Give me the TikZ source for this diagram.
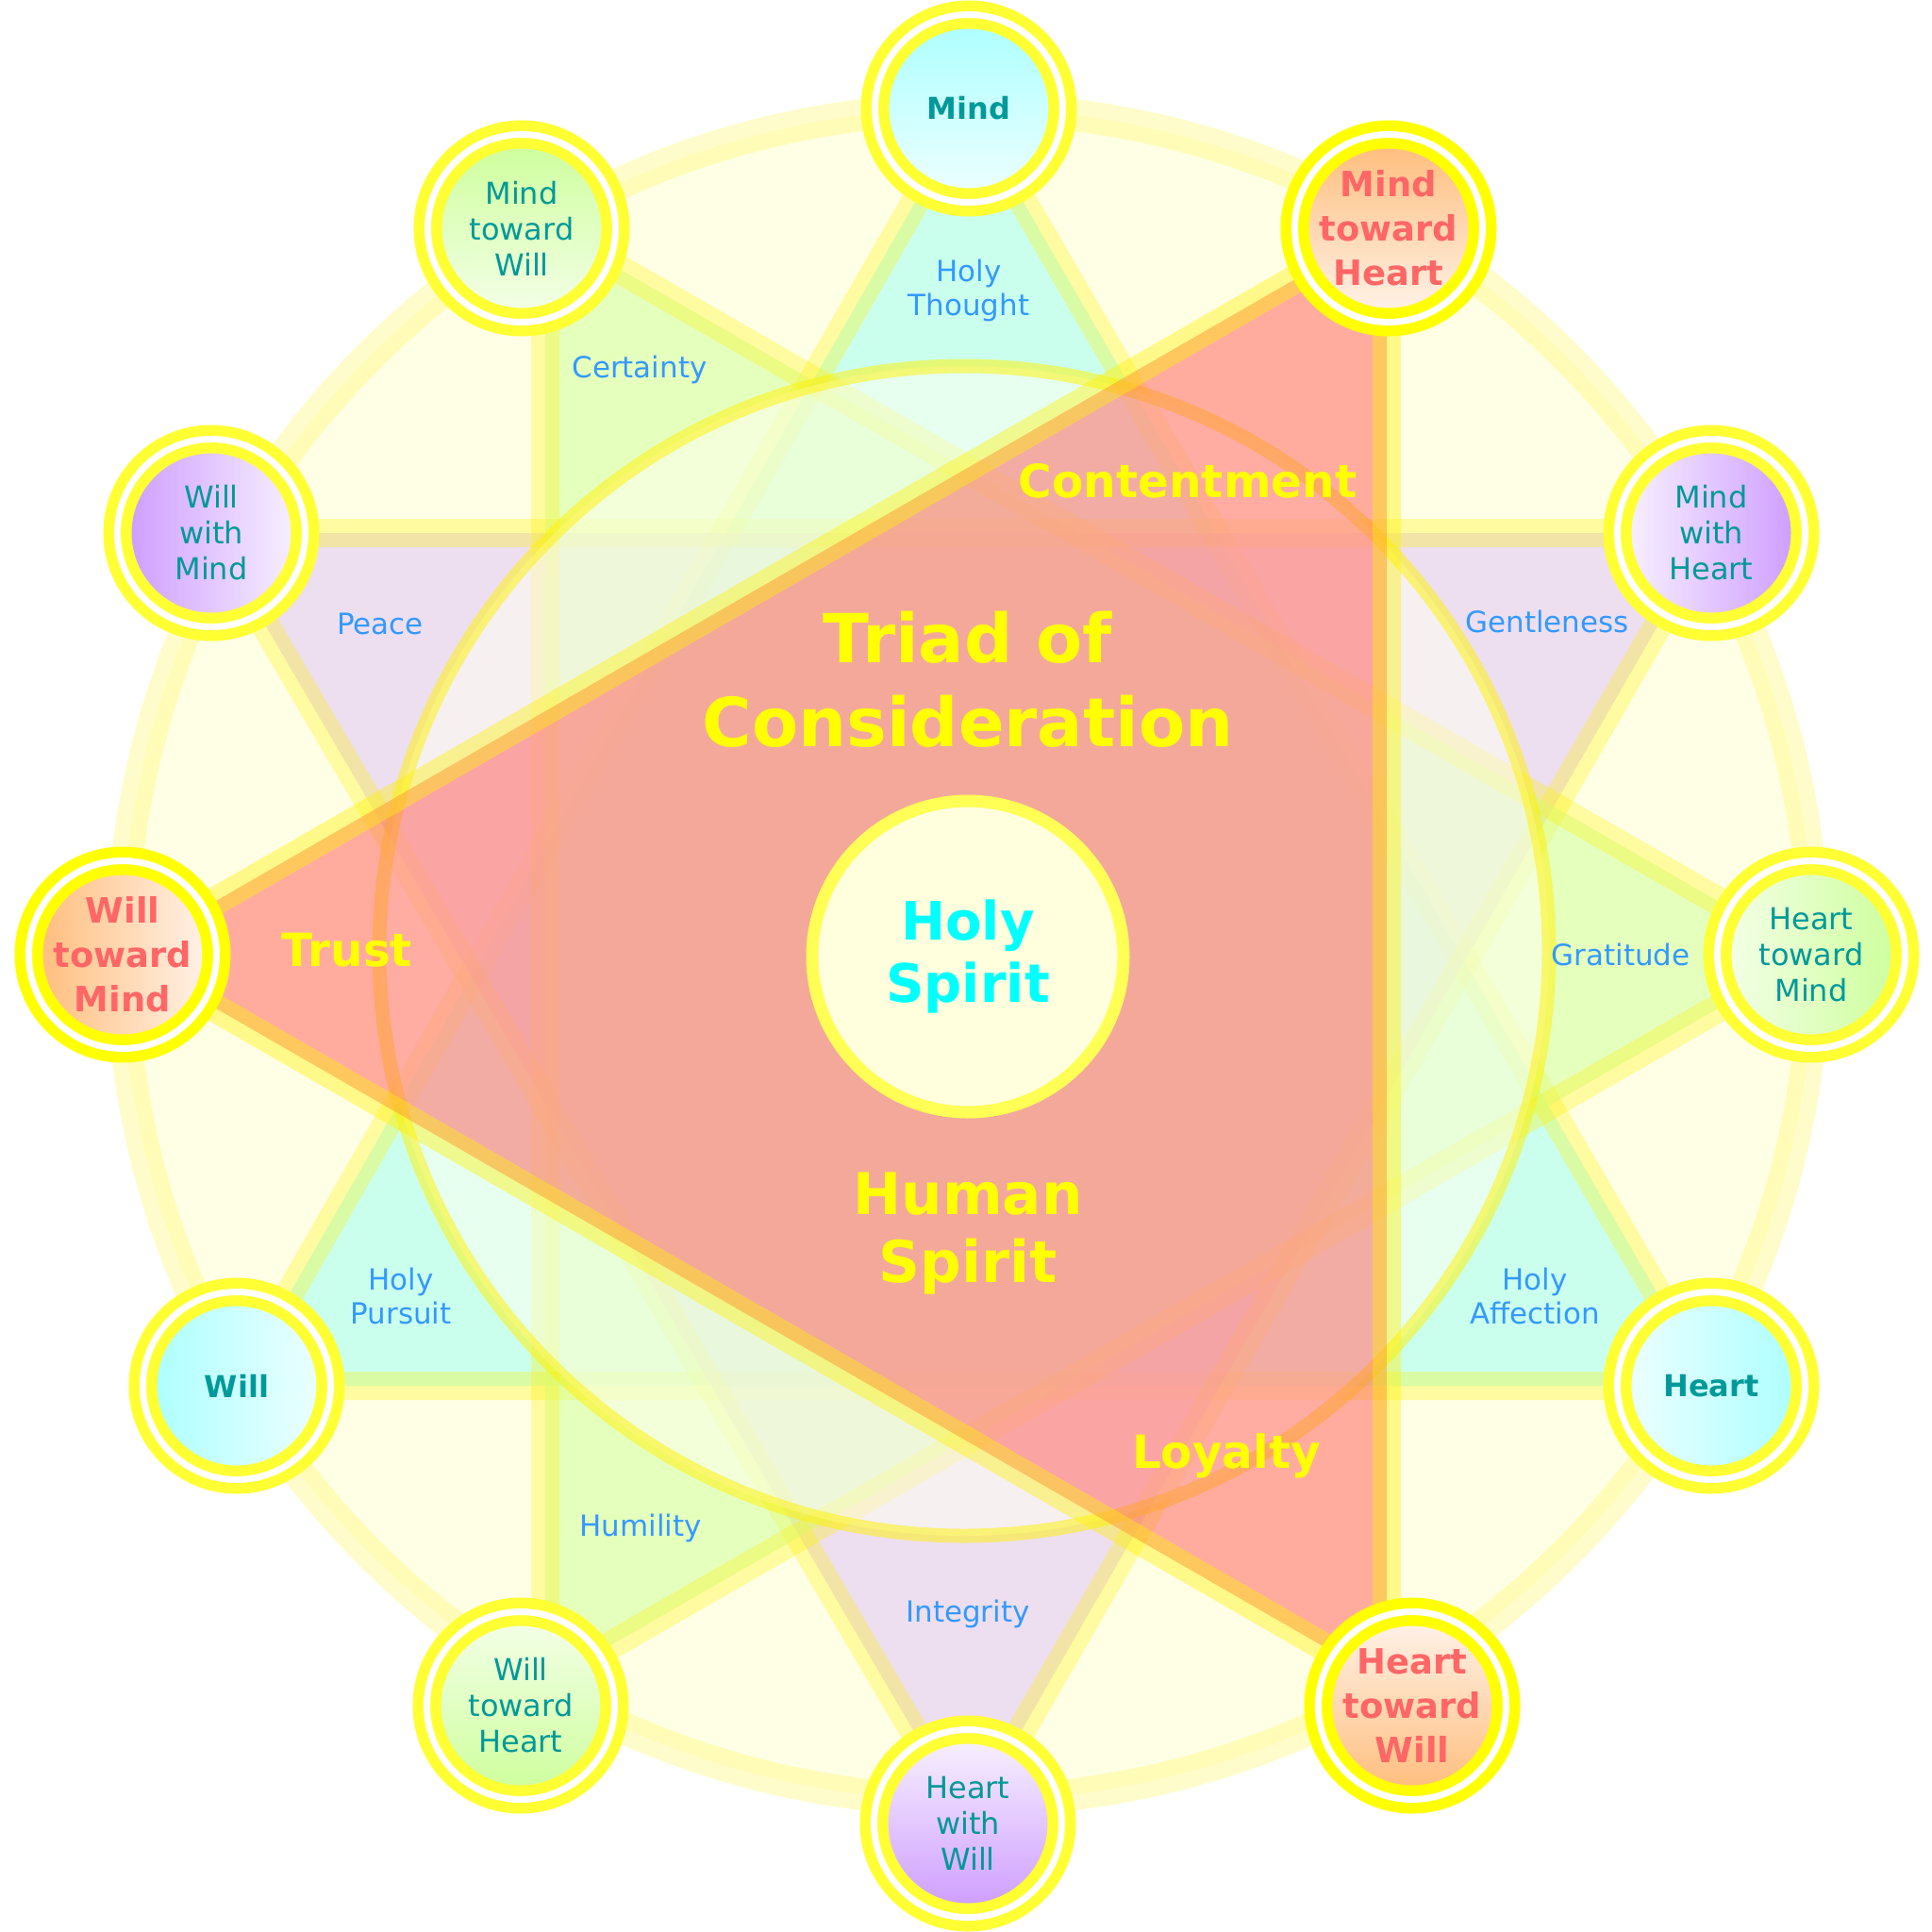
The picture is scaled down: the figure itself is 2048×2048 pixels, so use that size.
\documentclass[tikz,border=0pt]{standalone}
\usepackage{fontspec}
\setmainfont{DejaVu Sans}
\definecolor{ringY}{HTML}{FFFF33}
\definecolor{ringR}{HTML}{FFFF00}
\definecolor{tealT}{HTML}{009999}
\definecolor{redT}{HTML}{FF6666}
\definecolor{blueT}{HTML}{3399FF}
\definecolor{yelT}{HTML}{FFFF00}
\definecolor{cyanTx}{HTML}{00FFFF}
\definecolor{diskF}{HTML}{FFFFE6}
\definecolor{cyanF}{HTML}{99FFF5}
\definecolor{purpF}{HTML}{DDC1FA}
\definecolor{greenF}{HTML}{CDFF96}
\definecolor{redF}{HTML}{FF5A5A}
\definecolor{bigF}{HTML}{FFFFF0}
\definecolor{holyF}{HTML}{FFFFDD}
\definecolor{holyD}{HTML}{FFFF55}
\definecolor{cyanD}{HTML}{AAFFFF}
\definecolor{cyanL}{HTML}{F0FFFF}
\definecolor{oranD}{HTML}{FFBB77}
\definecolor{oranL}{HTML}{FFF5EE}
\definecolor{purpD}{HTML}{CC99FF}
\definecolor{purpL}{HTML}{FAF5FF}
\definecolor{grenD}{HTML}{CCFF99}
\definecolor{grenL}{HTML}{F5FFEB}
\newcommand\myfN{\fontsize{9.1pt}{10.8pt}\selectfont}
\newcommand\myfR{\fontsize{10.5pt}{13.4pt}\selectfont\bfseries}
\newcommand\myfL{\fontsize{8.8pt}{10.5pt}\selectfont}
\newcommand\myfB{\fontsize{13.8pt}{16pt}\selectfont\bfseries}
\newcommand\myfT{\fontsize{20.4pt}{25.3pt}\selectfont\bfseries}
\newcommand\myfH{\fontsize{17.4pt}{20.5pt}\selectfont\bfseries}
\newcommand\myfS{\fontsize{16pt}{18.8pt}\selectfont\bfseries}
\tikzset{
  onode/.style={circle, inner sep=0pt, minimum size=19.9mm, line width=1.15mm,
    double=white, double distance=0.7mm},
  ntxt/.style={inner sep=0pt, align=center, text=tealT, font=\myfN},
  rtxt/.style={inner sep=0pt, align=center, text=redT, font=\myfR},
  ltxt/.style={inner sep=0pt, align=center, text=blueT, font=\myfL},
  btxt/.style={inner sep=0pt, align=center, text=yelT, font=\myfB},
  tri/.style={line width=3mm, draw=yellow, draw opacity=0.3, fill opacity=0.5, line join=round},
  cyanS/.style={top color=cyanD, bottom color=cyanL, shading angle=#1},
  oranS/.style={top color=oranD, bottom color=oranL, shading angle=#1},
  purpS/.style={top color=purpD, bottom color=purpL, shading angle=#1},
  grenS/.style={top color=grenD, bottom color=grenL, shading angle=#1},
}
\begin{document}
\begin{tikzpicture}[x=0.1mm,y=-0.1mm]
\useasboundingbox (0,0) rectangle (2048,2048);
% centres
\coordinate (O) at (1026,1012);
\coordinate (O2) at (1022,1008);
% triangle vertices
\coordinate (c1) at (1027,115);
\coordinate (c2) at (251,1469);
\coordinate (c3) at (1814,1469);
\coordinate (p1) at (224,565);
\coordinate (p2) at (1814,565);
\coordinate (p3) at (1026,1933);
\coordinate (g1) at (578,240);
\coordinate (g2) at (1920,1012);
\coordinate (g3) at (578,1784);
\coordinate (r1) at (1470,240);
\coordinate (r2) at (130,1012);
\coordinate (r3) at (1470,1784);
% outer disk and ring
\fill[diskF] (O) circle (897);
\draw[yellow, opacity=0.2, line width=3.4mm] (O) circle (897);
% three triangles
\filldraw[tri, fill=cyanF] (c1) -- (c2) -- (c3) -- cycle;
\filldraw[tri, fill=purpF] (p1) -- (p2) -- (p3) -- cycle;
\filldraw[tri, fill=greenF] (g1) -- (g2) -- (g3) -- cycle;
% big circle
\filldraw[fill=bigF, fill opacity=0.55, draw=yellow, draw opacity=0.5, line width=1.5mm] (O2) circle (620);
% red triangle
\filldraw[fill=redF, fill opacity=0.5, draw=yellow, draw opacity=0.4, line width=3mm, line join=round] (r1) -- (r2) -- (r3) -- cycle;
% holy spirit
\node[circle, inner sep=0pt, minimum size=33mm, draw=holyD, line width=1.3mm, fill=holyF,
  text=cyanTx, align=center, font=\myfS] (hs) at (1026,1014) {Holy\\Spirit};
% outer nodes
\node[onode, draw=ringY, cyanS=0] (mind) at (1027,115) {};
\node[onode, draw=ringR, oranS=0] (mth) at (1472,242) {};
\node[onode, draw=ringY, purpS=-90] (mwh) at (1814,565) {};
\node[onode, draw=ringY, grenS=-90] (htm) at (1920,1012) {};
\node[onode, draw=ringY, cyanS=-90] (heart) at (1814,1469) {};
\node[onode, draw=ringR, oranS=180] (htw) at (1497,1808) {};
\node[onode, draw=ringY, purpS=180] (hww) at (1026,1933) {};
\node[onode, draw=ringY, grenS=180] (wth) at (552,1808) {};
\node[onode, draw=ringY, cyanS=90] (will) at (251,1469) {};
\node[onode, draw=ringR, oranS=90] (wtm) at (130,1012) {};
\node[onode, draw=ringY, purpS=90] (wwm) at (224,565) {};
\node[onode, draw=ringY, grenS=0] (mtw) at (553,242) {};
% node texts
\node[ntxt, font=\myfN\bfseries] (mind-t) at (mind) {Mind};
\node[rtxt] (mth-t) at (mth) {Mind\\toward\\Heart};
\node[ntxt] (mwh-t) at (mwh) {Mind\\with\\Heart};
\node[ntxt] (htm-t) at (htm) {Heart\\toward\\Mind};
\node[ntxt, font=\myfN\bfseries] (heart-t) at (heart) {Heart};
\node[rtxt] (htw-t) at (htw) {Heart\\toward\\Will};
\node[ntxt] (hww-t) at (hww) {Heart\\with\\Will};
\node[ntxt] (wth-t) at (wth) {Will\\toward\\Heart};
\node[ntxt, font=\myfN\bfseries] (will-t) at (will) {Will};
\node[rtxt] (wtm-t) at (wtm) {Will\\toward\\Mind};
\node[ntxt] (wwm-t) at (wwm) {Will\\with\\Mind};
\node[ntxt] (mtw-t) at (mtw) {Mind\\toward\\Will};
% triangle labels
\node[ltxt] (l-ht) at (1027,308) {Holy\\Thought};
\node[ltxt] (l-ce) at (678,392) {Certainty};
\node[ltxt] (l-pe) at (403,661) {Peace};
\node[ltxt] (l-ge) at (1640,659) {Gentleness};
\node[ltxt] (l-gr) at (1718,1012) {Gratitude};
\node[ltxt] (l-ha) at (1627,1374) {Holy\\Affection};
\node[ltxt] (l-in) at (1026,1711) {Integrity};
\node[ltxt] (l-hu) at (679,1620) {Humility};
\node[ltxt] (l-hp) at (425,1374) {Holy\\Pursuit};
% bold labels
\node[btxt] (b-co) at (1259,510) {Contentment};
\node[btxt] (b-tr) at (368,1007) {Trust};
\node[btxt] (b-lo) at (1300,1543) {Loyalty};
\node[btxt, font=\myfT] (b-triad) at (1026,720) {Triad of\\Consideration};
\node[btxt, font=\myfH] (b-human) at (1026,1308) {Human\\Spirit};
\end{tikzpicture}
\end{document}
